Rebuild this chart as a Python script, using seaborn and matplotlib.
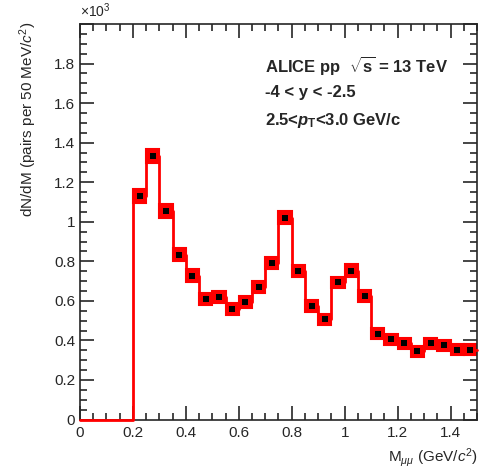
import numpy as np
import seaborn as sns
import matplotlib.pyplot as plt

# dimuon invariant mass spectrum, 50 MeV bins (values in units of 10^3)
bin_lo = [0.00, 0.05, 0.10, 0.15, 0.20, 0.25, 0.30, 0.35, 0.40, 0.45, 0.50, 0.55, 0.60,
          0.65, 0.70, 0.75, 0.80, 0.85, 0.90, 0.95, 1.00, 1.05, 1.10, 1.15, 1.20, 1.25,
          1.30, 1.35, 1.40, 1.45]
counts = [0.0, 0.0, 0.0, 0.0, 1.132, 1.334, 1.054, 0.833, 0.728, 0.609, 0.619, 0.561, 0.595,
          0.672, 0.791, 1.020, 0.752, 0.575, 0.507, 0.693, 0.753, 0.625, 0.433, 0.405,
          0.386, 0.345, 0.386, 0.376, 0.352, 0.352]
sys_err = [0.0, 0.0, 0.0, 0.0, 0.035, 0.035, 0.034, 0.032, 0.031, 0.030, 0.030, 0.030, 0.030,
           0.030, 0.031, 0.033, 0.031, 0.030, 0.029, 0.030, 0.031, 0.030, 0.028, 0.028,
           0.028, 0.028, 0.028, 0.028, 0.028, 0.028]
bin_w = 0.05

sns.set_style("ticks")
plt.rcParams['font.family'] = ['Liberation Sans', 'DejaVu Sans']
plt.rcParams['mathtext.fontset'] = 'custom'
plt.rcParams['mathtext.rm'] = 'Liberation Sans'
plt.rcParams['mathtext.it'] = 'Liberation Sans:italic'
plt.rcParams['mathtext.bf'] = 'Liberation Sans:bold'
plt.rcParams['mathtext.bfit'] = 'Liberation Sans:bold:italic'

fig = plt.figure(figsize=(4.81, 4.70), dpi=100)
ax = fig.add_axes([0.1663, 0.1074, 0.8254, 0.8416])

lo = np.array(bin_lo)
y = np.array(counts)
e = np.array(sys_err)
mask = y > 0

# systematic boxes
ax.bar(lo[mask], 2 * e[mask], bottom=y[mask] - e[mask], width=bin_w, align='edge',
       color='red', edgecolor='red', linewidth=1.5, zorder=2)

# histogram outline (steps)
step_x = list(bin_lo) + [1.5]
step_y = list(counts) + [counts[-1]]
sns.lineplot(x=step_x, y=step_y, drawstyle='steps-post', color='red', linewidth=2,
             ax=ax, zorder=3, clip_on=False)

# data points
sns.scatterplot(x=lo[mask] + bin_w / 2, y=y[mask], marker='s', s=14, color='black',
                edgecolor='black', linewidth=0, ax=ax, zorder=4)

ax.set_xlim(0, 1.5)
ax.set_ylim(0, 2.0)
ax.set_xticks(np.arange(0, 1.41, 0.2))
ax.set_xticklabels(['0', '0.2', '0.4', '0.6', '0.8', '1', '1.2', '1.4'])
ax.set_xticks(np.arange(0, 1.51, 0.05), minor=True)
ax.set_yticks(np.arange(0, 2.01, 0.2))
ax.set_yticklabels(['0', '0.2', '0.4', '0.6', '0.8', '1', '1.2', '1.4', '1.6', '1.8', ''])
ax.set_yticks(np.arange(0, 2.01, 0.05), minor=True)
ax.tick_params(which='both', direction='in', top=True, right=True, labelsize=11, width=1.2)
ax.tick_params(which='major', length=10)
ax.tick_params(which='minor', length=5)
ax.tick_params(axis='x', pad=5)
for sp in ax.spines.values():
    sp.set_linewidth(1.2)

ax.set_xlabel('')
ax.set_ylabel('')
fig.text(0.994, 0.026, r'M$_{\mu\mu}$ (GeV/$c^{2}$)', ha='right', va='center', fontsize=11)
fig.text(0.058, 0.953, r'dN/dM (pairs per 50 MeV/$c^{2}$)', rotation=90, ha='center',
         va='top', fontsize=11)
fig.text(0.166, 0.957, r'$\times$10$^{3}$', ha='left', va='bottom', fontsize=10)

ax.text(0.465, 0.895, r'ALICE pp  $\mathbf{\sqrt{s}}$ = 13 TeV', transform=ax.transAxes,
        fontsize=12, fontweight='bold', va='center')
ax.text(0.465, 0.826, '-4 < y < -2.5', transform=ax.transAxes,
        fontsize=12, fontweight='bold', va='center')
ax.text(0.465, 0.757, r'2.5<$\mathbfit{p}_{\mathbf{T}}$<3.0 GeV/c', transform=ax.transAxes,
        fontsize=12, fontweight='bold', va='center')

fig.savefig('out.png', dpi=100)
